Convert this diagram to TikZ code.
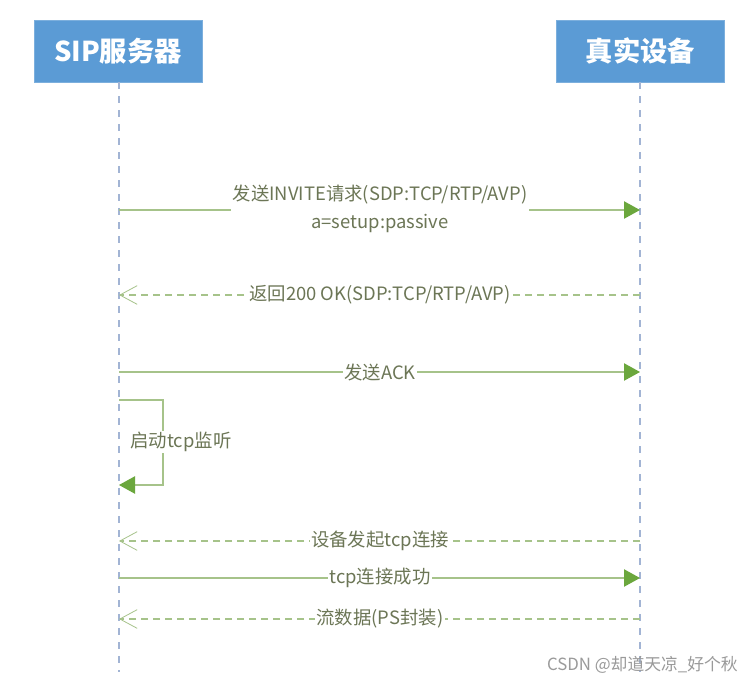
\documentclass[tikz,border=0pt]{standalone}
\usepackage{fontspec}
\setmainfont{Noto Sans CJK SC}
\usetikzlibrary{arrows.meta}
\definecolor{boxblue}{HTML}{5B9BD5}
\definecolor{lifeblue}{HTML}{A2B4D4}
\definecolor{msgline}{HTML}{A6C38A}
\definecolor{headgreen}{HTML}{6BA73D}
\definecolor{labelcol}{HTML}{6C7656}
\definecolor{wmcol}{HTML}{9A9A9A}
\tikzset{
  actor/.style={rectangle, fill=boxblue, draw=boxblue!80!white, minimum width=126pt, minimum height=46.5pt, text=white, font=\fontsize{20.5pt}{24pt}\selectfont\bfseries, inner sep=0pt},
  lifeline/.style={draw=lifeblue, line width=0.8pt, dash pattern=on 5.5pt off 5pt},
  syncmsg/.style={draw=msgline, line width=0.9pt, -{Triangle[length=12pt,width=13pt,fill=headgreen,color=headgreen]}},
  retmsg/.style={draw=msgline, line width=0.8pt, dash pattern=on 5pt off 4pt, -{Straight Barb[length=13pt,width=14pt,line width=0.6pt]}},
  msglabel/.style={fill=white, text=labelcol, font=\fontsize{13.8pt}{21pt}\selectfont, inner sep=1pt, align=center},
  wm/.style={text=wmcol, font=\fontsize{12.6pt}{15pt}\selectfont, inner sep=0pt}
}
\begin{document}
\begin{tikzpicture}[x=0.75pt,y=-0.75pt]
\useasboundingbox (0,0) rectangle (754,689);
\fill[white] (0,0) rectangle (754,689);
% actors
\node[actor] (sip) at (118,51) {SIP服务器};
\node[actor] (dev) at (640.5,51) {真实设备};
\coordinate (sipend) at (119,672);
\coordinate (devend) at (640,672);
\coordinate (siptop) at (119,82);
\coordinate (devtop) at (640,82);
\draw[lifeline] (siptop) -- (sipend);
\draw[lifeline] (devtop) -- (devend);
% message 1
\coordinate (a1) at (119,210); \coordinate (b1) at (640,210);
\draw[syncmsg] (a1) -- (b1);
\node[msglabel] (m1) at (380,209) {发送INVITE请求(SDP:TCP/RTP/AVP)\\a=setup:passive};
% message 2
\coordinate (a2) at (640,295); \coordinate (b2) at (119,295);
\draw[retmsg] (a2) -- (b2);
\node[msglabel] (m2) at (380,295) {返回200 OK(SDP:TCP/RTP/AVP)};
% message 3
\coordinate (a3) at (119,372); \coordinate (b3) at (640,372);
\draw[syncmsg] (a3) -- (b3);
\node[msglabel] (m3) at (380,372) {发送ACK};
% self loop
\coordinate (l0) at (119,400); \coordinate (l1) at (163,400);
\coordinate (l2) at (163,485); \coordinate (l3) at (119,485);
\draw[syncmsg] (l0) -- (l1) -- (l2) -- (l3);
\node[msglabel] (m4) at (181,442) {启动tcp监听};
% message 5
\coordinate (a5) at (640,541); \coordinate (b5) at (119,541);
\draw[retmsg] (a5) -- (b5);
\node[msglabel] (m5) at (380,541) {设备发起tcp连接};
% message 6
\coordinate (a6) at (119,578); \coordinate (b6) at (640,578);
\draw[syncmsg] (a6) -- (b6);
\node[msglabel] (m6) at (380,578) {tcp连接成功};
% message 7
\coordinate (a7) at (640,619); \coordinate (b7) at (119,619);
\draw[retmsg] (a7) -- (b7);
\node[msglabel] (m7) at (380,619) {流数据(PS封装)};
% watermark
\node[wm, anchor=east] (wmk) at (738,665) {CSDN @却道天凉\_好个秋};
\end{tikzpicture}
\end{document}
